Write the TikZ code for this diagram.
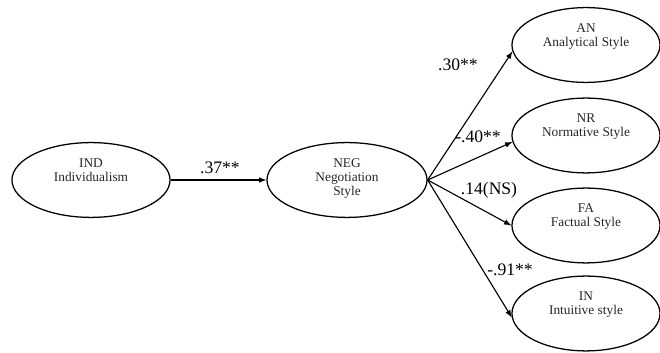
\documentclass[tikz,border=0pt]{standalone}
\usepackage{fontspec}
\setmainfont{Liberation Serif}
\usetikzlibrary{shapes.geometric}

\tikzset{
  construct/.style={ellipse, draw, line width=0.9pt, minimum width=#1, minimum height=1.87cm, inner sep=0pt},
  construct/.default=3.7cm,
  caption/.style={anchor=north, yshift=-8.3pt, align=center, text=black!85, font=\fontsize{9.5}{10}\selectfont},
  path/.style={-latex, line width=0.8pt},
  coef/.style={font=\fontsize{12.5}{14}\selectfont}
}

\begin{document}
\begin{tikzpicture}[x=0.025cm,y=-0.025cm]
    \useasboundingbox (0,0) rectangle (660,353) ;
    \node (IND) at (91,180) [construct=3.95cm, label={[caption]north:IND\\Individualism}] {} ;
    \node (NEG) at (347,180) [construct=4cm, label={[caption]north:NEG\\Negotiation\\Style}] {} ;
    \node (AN) at (586,45) [construct, label={[caption]north:AN\\Analytical Style}] {} ;
    \node (NR) at (586,135.5) [construct, label={[caption]north:NR\\Normative Style}] {} ;
    \node (FA) at (586,225.5) [construct, label={[caption]north:FA\\Factual Style}] {} ;
    \node (IN) at (586,313.5) [construct, label={[caption]north:IN\\Intuitive style}] {} ;
    \draw[path] (IND) -- (NEG) ;
    \draw[path] (NEG.east) -- (AN.185) ;
    \draw[path] (NEG.east) -- (NR.185) ;
    \draw[path] (NEG.east) -- (FA.west) ;
    \draw[path] (NEG.east) -- (IN.183) ;
    \node (c37) at (220,168) [coef] {.37**} ;
    \node (c30) at (458,65) [coef] {.30**} ;
    \node (c40) at (478,137) [coef] {-.40**} ;
    \node (c14) at (489,190) [coef] {.14(NS)} ;
    \node (c91) at (510,270) [coef] {-.91**} ;
\end{tikzpicture}
\end{document}
